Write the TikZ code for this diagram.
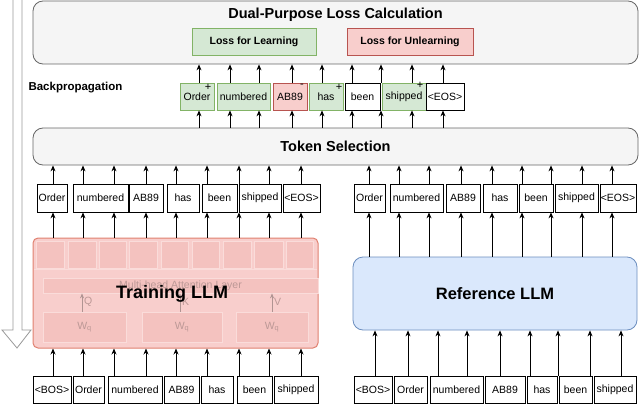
\documentclass[tikz,border=0pt]{standalone}
\usepackage{fontspec}
\setmainfont{Liberation Sans}
\usetikzlibrary{arrows.meta}

\definecolor{verdeF}{HTML}{D5E8D4}
\definecolor{verdeB}{HTML}{82B366}
\definecolor{rojoF}{HTML}{F8CECC}
\definecolor{rojoB}{HTML}{B85450}
\definecolor{azulF}{HTML}{DAE8FC}
\definecolor{azulB}{HTML}{6C8EBF}
\definecolor{grisF}{HTML}{F5F5F5}
\definecolor{grisB}{HTML}{666666}
\definecolor{llmB}{HTML}{E0806F}
\definecolor{tenueF}{HTML}{F4C2BF}
\definecolor{tenueB}{HTML}{FADCDA}
\definecolor{tenueT}{HTML}{BC9896}
\definecolor{tenueA}{HTML}{B09492}

\begin{document}
\begin{tikzpicture}[x=1pt,y=-1pt,
    every node/.style={font=\fontsize{10.5}{12}\selectfont},
    tok/.style={draw=black, fill=white, line width=0.8pt, inner sep=0pt, minimum height=27pt},
    tokok/.style={tok, draw=verdeB, fill=verdeF},
    tokmal/.style={tok, draw=rojoB, fill=rojoF},
    panel/.style={draw=grisB, fill=grisF, line width=0.8pt, rounded corners=10pt, inner sep=0pt},
    flecha/.style={-{Stealth[length=6pt,width=5pt]}, line width=0.8pt},
    tenue/.style={draw=tenueB, fill=tenueF, line width=0.8pt, inner sep=0pt},
    titulo/.style={font=\fontsize{14.5}{17}\selectfont\bfseries}]
    \useasboundingbox (0,0) rectangle (640,404);

    % Flecha de retropropagacion
    \draw[draw=gray!80, fill=white, line width=0.8pt]
      (13,0) -- (13,330) -- (2,330) -- (17,348) -- (31,330) -- (22,330) -- (22,0);

    % Calculo de la perdida
    \node[panel, minimum width=605pt, minimum height=63pt] (loss) at (335.5,32.5) {};
    \node[titulo] (losst) at (335.5,15) {Dual-Purpose Loss Calculation};
    \node[tokok, minimum width=124pt, font=\fontsize{10.5}{12}\selectfont\bfseries]
      (lapr) at (254,41.5) {Loss for Learning};
    \node[tokmal, minimum width=126pt, font=\fontsize{10.5}{12}\selectfont\bfseries]
      (ldes) at (410,41.5) {Loss for Unlearning};
    \node[anchor=west, font=\fontsize{11.5}{13}\selectfont\bfseries]
      (bp) at (25,88) {Backpropagation};

    % Tokens seleccionados
    \foreach \n/\cx/\w/\s/\t in {1/197/34/tokok/Order, 2/243.5/53/tokok/numbered,
        3/290/34/tokmal/AB89, 4/326/34/tokok/has, 5/362.5/35/tok/been,
        6/404/44/tokok/shipped, 7/445/38/tok/{<EOS>}}
      \node[\s, minimum width=\w pt] (s\n) at (\cx,96.5) {\t};
    \foreach \n/\x/\y/\m in {1/208/87/+, 3/302/86/-, 4/339/87/+, 6/420/85/+}
      \node[font=\fontsize{11}{12}\selectfont, inner sep=0pt] (m\n) at (\x,\y) {\m};

    % Seleccion de tokens
    \node[panel, titulo, minimum width=605pt, minimum height=37pt]
      (tsel) at (335.5,146.5) {Token Selection};
    \foreach \x in {199,230,259,292,322,352,381,412,443} {
      \draw[flecha] (s1.north -| \x,0) -- (loss.south -| \x,0);
      \draw[flecha] (tsel.north -| \x,0) -- (s1.south -| \x,0);
    }

    % Salidas de los modelos
    \foreach \n/\cx/\w/\t in {1/52/30/Order, 2/100.5/55/numbered, 3/146/34/AB89,
        4/183/32/has, 5/219.5/35/been, 6/260/42/shipped, 7/301.5/37/{<EOS>}}
      \node[tok, minimum width=\w pt, minimum height=28pt] (a\n) at (\cx,198) {\t};
    \foreach \n/\cx/\w/\t in {1/369.5/31/Order, 2/416.5/53/numbered, 3/463/34/AB89,
        4/500/34/has, 5/536/34/been, 6/576.5/43/shipped, 7/618/36/{<EOS>}}
      \node[tok, minimum width=\w pt, minimum height=28pt] (b\n) at (\cx,198) {\t};

    % Modelo en entrenamiento
    \node[draw=llmB, fill=rojoF, rounded corners=5pt, line width=1pt, inner sep=0pt,
      minimum width=285pt, minimum height=110pt] (tllm) at (175.5,293) {};
    \foreach \a/\b in {36/64,68/96,99/126,129/157,161/188,192/219,223/251,254/283,286/313}
      \draw[tenue] (\a,241) rectangle (\b,268);
    \draw[tenueB, line width=0.8pt] (34,269) -- (317,269);
    \node[tenue, text=tenueT, minimum width=275pt, minimum height=15pt]
      (mha) at (180.5,285.5) {Multi-head Attention Layer};
    \foreach \n/\cx/\w/\l/\x in {1/84.5/83/Q/82, 2/182/80/K/180, 3/272/72/V/272} {
      \node[tenue, text=tenueT, minimum width=\w pt, minimum height=30pt]
        (w\n) at (\cx,327) {W\textsubscript{q}};
      \draw[-{Stealth[length=5pt,width=4pt]}, draw=tenueA, line width=0.8pt]
        (w\n.north -| \x,0) -- (mha.south -| \x,0);
      \node[text=tenueT, anchor=west, inner sep=1pt] (e\n) at (\x+1,302) {\l};
    }
    \node[font=\fontsize{18}{20}\selectfont\bfseries] (tllmt) at (172,294) {Training LLM};

    % Modelo de referencia
    \node[draw=azulB, fill=azulF, rounded corners=10pt, line width=0.8pt,
      minimum width=284pt, minimum height=73pt, font=\fontsize{16.5}{19}\selectfont\bfseries]
      (rllm) at (495,293.5) {Reference LLM};

    % Entradas
    \foreach \n/\cx/\w/\t in {1/52/38/{<BOS>}, 2/88.5/31/Order, 3/135/54/numbered,
        4/181.5/35/AB89, 5/217/32/has, 6/254.5/35/been, 7/296/44/shipped}
      \node[tok, minimum width=\w pt] (c\n) at (\cx,389.5) {\t};
    \foreach \n/\cx/\w/\t in {1/373/38/{<BOS>}, 2/410.5/33/Order, 3/456.5/53/numbered,
        4/505/40/AB89, 5/542/30/has, 6/575.5/33/been, 7/615/42/shipped}
      \node[tok, minimum width=\w pt] (d\n) at (\cx,389.5) {\t};

    % Flechas entre capas
    \foreach \x in {53,83,114,146,176,207,239,269,301} {
      \draw[flecha] (a1.north -| \x,0) -- (tsel.south -| \x,0);
      \draw[flecha] (tllm.north -| \x,0) -- (a1.south -| \x,0);
      \draw[flecha] (c1.north -| \x,0) -- (tllm.south -| \x,0);
    }
    \foreach \x in {369,399,429,461,492,522,551,582,612} {
      \draw[flecha] (b1.north -| \x,0) -- (tsel.south -| \x,0);
      \draw[flecha] (rllm.north -| \x,0) -- (b1.south -| \x,0);
    }
    \foreach \x in {375,408,438,467,500,530,558,590,621}
      \draw[flecha] (d1.north -| \x,0) -- (rllm.south -| \x,0);
  \end{tikzpicture}
\end{document}
